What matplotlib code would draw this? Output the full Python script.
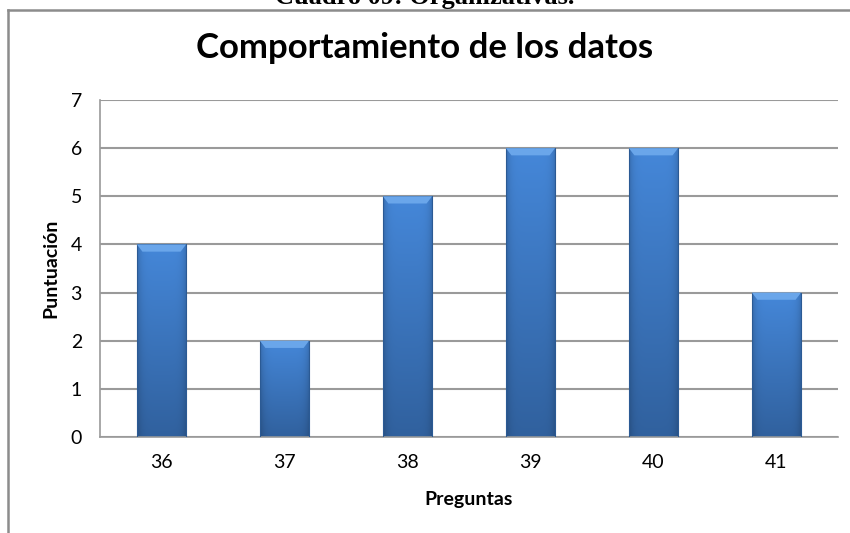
import matplotlib
matplotlib.use("Agg")
import matplotlib.pyplot as plt
import numpy as np
from matplotlib.patches import Polygon
from matplotlib.lines import Line2D

# datos del gráfico
preguntas = ["36", "37", "38", "39", "40", "41"]
puntuacion = [4, 2, 5, 6, 6, 3]
y_ticks = [0, 1, 2, 3, 4, 5, 6, 7]

titulo = "Comportamiento de los datos"
cuadro = "Cuadro 09: Organizativas."

fig = plt.figure(figsize=(8.5, 5.33), dpi=100)
fig.patch.set_facecolor("white")

# marco del gráfico (recortado a la derecha y abajo)
fig.add_artist(Line2D([8 / 850, 1.0], [1 - 10 / 533, 1 - 10 / 533], transform=fig.transFigure,
                      color="#8c8c8c", linewidth=1.8))
fig.add_artist(Line2D([8 / 850, 8 / 850], [0.0, 1 - 10 / 533], transform=fig.transFigure,
                      color="#8c8c8c", linewidth=1.8))

# título del cuadro, cortado por el borde superior
fig.text(0.5, 1 - 4 / 533, cuadro, ha="center", va="baseline", fontsize=19,
         fontweight="bold", family="Liberation Serif")

fig.text(0.5, 1 - 48 / 533, titulo, ha="center", va="center", fontsize=25,
         fontweight="bold", family="Lato")

ax = fig.add_axes([100 / 850, 1 - 437 / 533, 738 / 850, 337 / 533])
x = np.arange(len(preguntas))
bars = ax.bar(x, puntuacion, width=0.4, color="none", edgecolor="#2b5a94", linewidth=0.8, zorder=3)

top_c = np.array([0.27, 0.53, 0.85])
bot_c = np.array([0.19, 0.38, 0.62])
for b in bars:
    x0, w, h = b.get_x(), b.get_width(), b.get_height()
    t = np.linspace(0, 1, 100)[:, None]
    col = top_c * (1 - t) + bot_c * t
    # oscurecer un poco los bordes laterales
    s = np.linspace(-1, 1, 60)
    side = 1 - 0.18 * np.abs(s) ** 6
    img = col[:, None, :] * side[None, :, None]
    im = ax.imshow(img, extent=[x0, x0 + w, 0, h], aspect="auto", zorder=2, origin="upper")
    im.set_clip_path(b)
    bv = 0.15
    ax.add_patch(Polygon([[x0, h], [x0 + w, h], [x0 + w - 0.045, h - bv], [x0 + 0.045, h - bv]],
                         closed=True, facecolor="#6aa6ea", edgecolor="none", zorder=4))

ax.set_xlim(-0.5, len(preguntas) - 0.5)
ax.set_ylim(0, 7)
ax.set_yticks(y_ticks)
ax.set_xticks(x)
ax.set_xticklabels(preguntas)
ax.yaxis.grid(True, color="#9a9a9a", linewidth=1.5, zorder=0)
ax.set_axisbelow(True)
for side_name in ["top", "right"]:
    ax.spines[side_name].set_visible(False)
for side_name in ["left", "bottom"]:
    ax.spines[side_name].set_color("#9a9a9a")
    ax.spines[side_name].set_linewidth(1.2)
ax.tick_params(length=0, labelsize=14, pad=12)
for lab in ax.get_xticklabels() + ax.get_yticklabels():
    lab.set_family("Lato")
ax.tick_params(axis="y", pad=13)

ax.set_xlabel("Preguntas", fontsize=14, fontweight="bold", family="Lato", labelpad=15)
ax.set_ylabel("Puntuación", fontsize=14, fontweight="bold", family="Lato", labelpad=8)

fig.savefig("out.png", dpi=100)
